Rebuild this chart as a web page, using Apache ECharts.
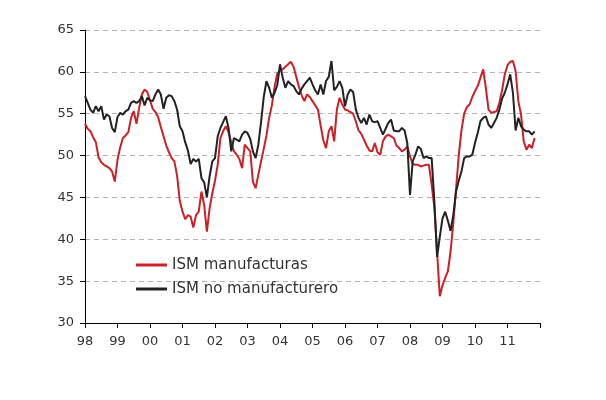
<!DOCTYPE html>
<html>
<head>
<meta charset="utf-8">
<script src="https://cdn.jsdelivr.net/npm/echarts@6/dist/echarts.min.js"></script>
<style>
  body { margin: 0; background: #fff; }
  #lineChart { width: 606px; height: 400px; }
</style>
</head>
<body>
<div id="lineChart"></div>
<script>
// etiquetas del eje x (una por año, la última marca sin texto)
var yearLabels = ['98','99','00','01','02','03','04','05','06','07','08','09','10','11',''];

// ISM manufacturas, mensual ene-98 .. nov-11
var ismManuf = [
  53.8, 53.2, 52.9, 52.2, 51.6, 49.8, 49.2, 48.9, 48.7, 48.5, 48.1, 46.9,
  49.5, 51.0, 52.1, 52.4, 52.8, 54.5, 55.3, 53.8, 55.7, 57.3, 57.9, 57.6,
  56.6, 55.6, 55.2, 54.6, 53.4, 52.3, 51.2, 50.4, 49.7, 49.3, 47.6, 44.6,
  43.3, 42.4, 42.9, 42.7, 41.4, 42.9, 43.3, 45.7, 44.1, 40.9, 43.7, 45.5,
  47.0, 48.9, 52.1, 52.9, 53.5, 52.8, 51.6, 50.5, 50.1, 49.6, 48.5, 51.3,
  50.9, 50.5, 46.9, 46.1, 47.7, 49.3, 50.8, 52.4, 54.5, 56.0, 58.2, 59.8,
  60.2, 60.3, 60.6, 60.9, 61.2, 60.6, 59.4, 58.2, 57.2, 56.5, 57.3, 57.0,
  56.5, 56.0, 55.5, 53.6, 51.8, 50.9, 52.9, 53.5, 51.7, 55.5, 56.9, 56.1,
  55.5, 55.4, 55.2, 55.0, 54.1, 53.0, 52.6, 51.9, 51.2, 50.6, 50.5, 51.5,
  50.4, 50.1, 51.7, 52.3, 52.5, 52.3, 52.1, 51.2, 50.9, 50.5, 50.7, 51.1,
  49.9, 49.0, 48.9, 48.9, 48.7, 48.8, 48.9, 48.9, 46.5, 43.8, 38.5, 33.2,
  34.5, 35.4, 36.2, 38.6, 42.0, 46.0, 50.0, 53.0, 55.0, 55.8, 56.1, 57.0,
  57.7, 58.3, 59.3, 60.3, 58.1, 55.5, 55.1, 55.2, 55.3, 56.3, 57.8, 59.7,
  60.8, 61.2, 61.3, 60.1, 56.5, 54.9, 51.7, 50.7, 51.3, 50.9, 52.1
];

// ISM no manufacturero, mensual ene-98 .. nov-11
var ismNoManuf = [
  57.1, 56.3, 55.5, 55.1, 55.9, 55.3, 55.9, 54.3, 54.9, 54.7, 53.3, 52.8,
  54.6, 55.1, 54.9, 55.3, 55.5, 56.3, 56.5, 56.3, 56.5, 57.1, 56.0, 56.9,
  56.6, 56.5, 57.3, 57.9, 57.3, 55.6, 56.9, 57.2, 57.1, 56.5, 55.5, 53.5,
  52.9, 51.6, 50.6, 49.0, 49.6, 49.3, 49.6, 47.3, 46.8, 45.0, 47.5, 49.3,
  49.7, 52.3, 53.3, 54.0, 54.7, 53.3, 50.5, 52.1, 51.9, 51.7, 52.5, 52.9,
  52.7, 52.0, 50.5, 49.7, 51.3, 54.0, 57.0, 58.9, 58.1, 56.9, 57.5, 58.4,
  60.9, 59.3, 58.1, 58.9, 58.5, 58.3, 57.7, 57.3, 58.0, 58.5, 58.9, 59.3,
  58.5, 57.8, 57.3, 58.5, 57.3, 58.9, 59.4, 61.3, 57.8, 58.2, 58.9, 58.1,
  55.9, 57.3, 57.9, 57.6, 55.5, 54.5, 53.9, 54.5, 53.7, 54.9, 54.1, 54.0,
  54.1, 53.3, 52.5, 53.2, 53.9, 54.3, 53.0, 52.9, 52.9, 53.3, 53.0, 51.5,
  45.3, 49.3, 50.1, 51.1, 50.8, 49.7, 49.9, 49.7, 49.7, 44.5, 37.9, 40.3,
  42.5, 43.3, 42.2, 41.0, 42.9, 45.7, 47.0, 48.1, 49.7, 49.9, 49.9, 50.1,
  51.5, 52.7, 54.1, 54.5, 54.7, 53.7, 53.3, 53.9, 54.5, 55.5, 56.8, 57.5,
  58.5, 59.7, 57.5, 53.0, 54.5, 53.5, 53.1, 52.9, 52.9, 52.5, 52.9
];

// meses del eje (ene-98 .. ene-12)
var months = [];
for (var y = 1998; y <= 2012; y++) {
  for (var m = 1; m <= 12; m++) {
    if (y == 2012 && m > 1) break;
    months.push(y + '-' + (m < 10 ? '0' + m : m));
  }
}

var lcs = echarts.init(document.getElementById('lineChart'));

lcs.setOption({
  animation: false,
  color: ['#cc2027', '#222222'],
  grid: { left: 85, right: 66, top: 30, bottom: 77 },

  legend: {
    data: ['ISM manufacturas', 'ISM no manufacturero'],
    orient: 'vertical',
    left: 131,
    top: 252,
    itemWidth: 31,
    itemHeight: 3,
    itemGap: 8,
    icon: 'rect',
    textStyle: { color: '#333333', fontSize: 15, fontFamily: 'DejaVu Sans', lineHeight: 16 }
  },

  xAxis: {
    type: 'category',
    data: months,
    boundaryGap: false,
    axisLine: { lineStyle: { color: '#000000', width: 1 } },
    axisTick: { interval: 11, length: 5, lineStyle: { color: '#000000' } },
    axisLabel: {
      interval: 11,
      margin: 12,
      color: '#333333',
      fontSize: 13,
      fontFamily: 'DejaVu Sans',
      formatter: function (value, idx) {
        return idx % 12 == 0 ? yearLabels[idx / 12] : '';
      }
    },
    splitLine: { show: false }
  },

  yAxis: {
    type: 'value',
    min: 30,
    max: 65,
    interval: 5,
    axisLine: { show: true, lineStyle: { color: '#000000', width: 1 } },
    axisTick: { show: true, length: 5, lineStyle: { color: '#000000' } },
    axisLabel: { margin: 11, color: '#333333', fontSize: 13, fontFamily: 'DejaVu Sans' },
    splitLine: { lineStyle: { color: '#b4b4b4', type: [5, 4], width: 1 } }
  },

  series: [
    {
      name: 'ISM manufacturas',
      type: 'line',
      showSymbol: false,
      lineStyle: { width: 2 },
      data: ismManuf
    },
    {
      name: 'ISM no manufacturero',
      type: 'line',
      showSymbol: false,
      lineStyle: { width: 2 },
      data: ismNoManuf
    }
  ]
});
</script>
</body>
</html>
